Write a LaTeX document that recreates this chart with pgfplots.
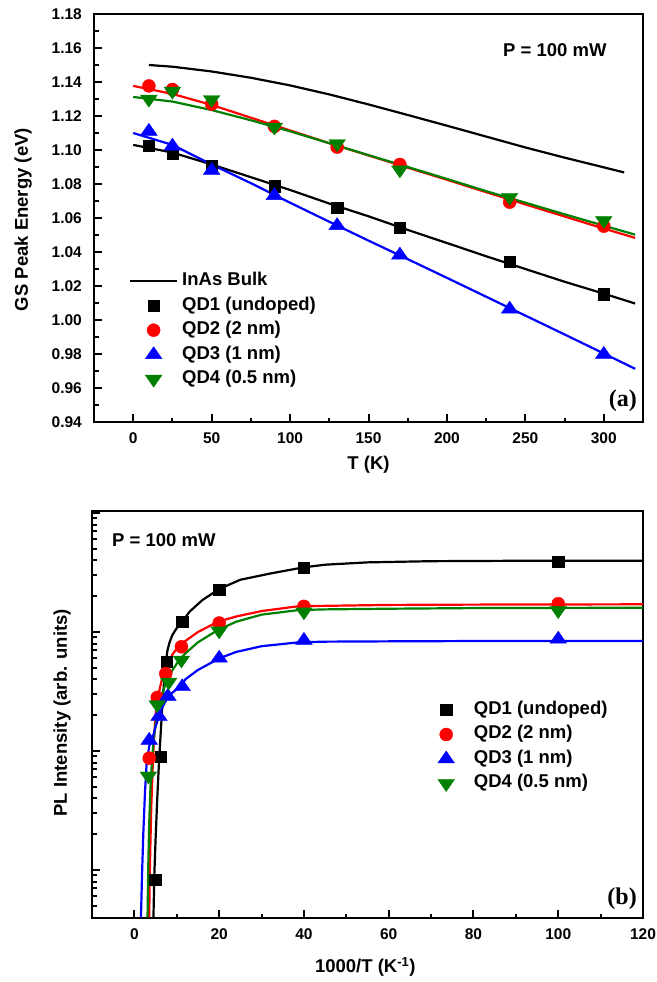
\documentclass[border=0pt]{standalone}
\usepackage{fontspec}
\setmainfont{Liberation Sans}
\newfontfamily\seriffont{Liberation Serif}
\usepackage{pgfplots}
\pgfplotsset{compat=1.18}
\definecolor{qdgreen}{RGB}{0,128,0}
\begin{document}
\begin{tikzpicture}
\useasboundingbox (0,0) rectangle (657bp,-982bp);
\pgfplotsset{
  myaxis/.style={
    scale only axis,
    axis line style={line width=2.5bp},
    every tick/.append style={line width=2bp, black},
    major tick length=8bp,
    minor tick length=4.5bp,
    tick pos=left,
    tick align=inside,
    /pgf/number format/assume math mode=true,
    tick label style={font=\fontsize{15.5bp}{17bp}\selectfont\bfseries},
    xticklabel style={inner sep=0pt, text height=11bp, text depth=0pt, yshift=-10.5bp},
    yticklabel style={inner sep=0pt, text height=11bp, text depth=0pt, xshift=-12bp},
    label style={font=\fontsize{18.5bp}{20bp}\selectfont\bfseries},
    legend style={draw=none, fill=none, inner sep=0pt, outer sep=0pt, column sep=4bp, row sep=7.5bp,
      font=\fontsize{18.5bp}{20bp}\selectfont\bfseries, nodes={inner sep=0pt, text height=13bp, text depth=4bp}},
    legend cell align=left,
    legend image code/.code={\path (0bp,0bp) (47bp,0bp);\draw[mark repeat=2,mark phase=2,#1] plot coordinates {(0bp,0bp) (23.5bp,0bp) (47bp,0bp)};},
  },
  qd1/.style={only marks, mark=square*, black, mark size=5.6bp},
  qd2/.style={only marks, mark=*, red, mark size=6.5bp},
  qd3/.style={only marks, mark=triangle*, blue, mark size=8bp, mark options={xscale=1.2}},
  qd4/.style={only marks, mark=triangle*, qdgreen, mark size=8bp, mark options={rotate=180, xscale=1.2}},
  fit/.style={no marks, line width=2.2bp, forget plot},
}
% ---------------- panel (a) ----------------
\begin{axis}[myaxis, at={(94bp,-422bp)}, anchor=south west, width=549bp, height=408bp,
  xmin=-25, xmax=325, ymin=0.94, ymax=1.18,
  xtick={0,50,100,150,200,250,300}, minor x tick num=1,
  ytick={0.94,0.96,0.98,1.00,1.02,1.04,1.06,1.08,1.10,1.12,1.14,1.16,1.18}, minor y tick num=1,
  y tick label style={/pgf/number format/fixed, /pgf/number format/fixed zerofill, /pgf/number format/precision=2},
  xlabel={T (K)}, ylabel={GS Peak Energy (eV)},
  xlabel style={at={(axis description cs:0.5,-0.105)}, anchor=center},
  ylabel style={at={(axis description cs:-0.129,0.496)}, anchor=center},
  legend style={at={(axis description cs:0.0638,0.366)}, anchor=north west},
]
% fit curves
\addplot[fit, black] coordinates {(0,1.1030) (25,1.0985) (50,1.0915) (75,1.0840) (100,1.0765) (125,1.0685) (150,1.0610) (175,1.0530) (200,1.0453) (225,1.0375) (250,1.0300) (275,1.0225) (300,1.0155) (320,1.0097)};
\addplot[fit, red] coordinates {(0,1.1377) (25,1.1330) (50,1.1265) (75,1.1190) (100,1.1115) (125,1.1040) (150,1.0968) (175,1.0896) (200,1.0825) (225,1.0752) (250,1.0680) (275,1.0609) (300,1.0538) (320,1.0483)};
\addplot[fit, blue] coordinates {(0,1.1100) (25,1.1030) (50,1.0915) (75,1.0805) (100,1.0690) (125,1.0578) (150,1.0467) (175,1.0358) (200,1.0248) (225,1.0137) (250,1.0026) (275,0.9915) (300,0.9803) (320,0.9713)};
\addplot[fit, qdgreen] coordinates {(0,1.1312) (25,1.1285) (50,1.1235) (75,1.1175) (100,1.1110) (125,1.1040) (150,1.0970) (175,1.0900) (200,1.0830) (225,1.0758) (250,1.0690) (275,1.0622) (300,1.0555) (320,1.0502)};
% InAs bulk
\addplot[no marks, black, line width=2.2bp] coordinates {(10,1.1500) (25,1.1490) (50,1.1462) (75,1.1425) (100,1.1380) (125,1.1327) (150,1.1268) (175,1.1206) (200,1.1143) (225,1.1079) (250,1.1015) (275,1.0955) (300,1.0898) (313,1.0868)};
\addlegendentry{InAs Bulk}
\addplot[qd1] coordinates {(10,1.1023) (25,1.0978) (50,1.0909) (90,1.0787) (130,1.0660) (170,1.0545) (240,1.0343) (300,1.0152)};
\addlegendentry{QD1 (undoped)}
\addplot[qd2] coordinates {(10,1.1377) (25,1.1356) (50,1.1270) (90,1.1139) (130,1.1017) (170,1.0915) (240,1.0693) (300,1.0552)};
\addlegendentry{QD2 (2 nm)}
\addplot[qd3] coordinates {(10,1.1110) (25,1.1023) (50,1.0880) (90,1.0732) (130,1.0555) (170,1.0382) (240,1.0064) (300,0.9798)};
\addlegendentry{QD3 (1 nm)}
\addplot[qd4] coordinates {(10,1.1299) (25,1.1346) (50,1.1297) (90,1.1135) (130,1.1037) (170,1.0883) (240,1.0722) (300,1.0585)};
\addlegendentry{QD4 (0.5 nm)}
\node[anchor=base west, font=\fontsize{18.5bp}{20bp}\selectfont\bfseries, inner sep=0pt] at (axis description cs:0.745,0.897) {P = 100 mW};
\node[anchor=base east, font=\fontsize{24bp}{26bp}\selectfont\seriffont\bfseries, inner sep=0pt] at (axis description cs:0.989,0.0392) {(a)};
\end{axis}
% ---------------- panel (b) ----------------
\begin{axis}[myaxis, at={(92bp,-918bp)}, anchor=south west, width=551bp, height=407bp,
  xmin=-10, xmax=120, ymode=log, ymin=0.395, ymax=1040,
  xtick={0,20,40,60,80,100,120}, minor x tick num=1,
  ytick={1,10,100,1000}, yticklabels={},
  minor ytick={0.5,0.6,0.7,0.8,0.9,2,3,4,5,6,7,8,9,20,30,40,50,60,70,80,90,200,300,400,500,600,700,800,900},
  xlabel={1000/T (K\textsuperscript{-1})}, ylabel={PL Intensity (arb. units)},
  xlabel style={at={(axis description cs:0.496,-0.12)}, anchor=center},
  ylabel style={at={(axis description cs:-0.0544,0.504)}, anchor=center},
  legend style={at={(axis description cs:0.5998,0.532)}, anchor=north west},
]
\addplot[fit, black] coordinates {(120,398) (90,397) (70,394) (55,385) (45,368) (40,350) (32,310) (25,275) (20,230) (16,185) (13,148) (11.3,122) (10,108) (9,95) (8.3,82) (7.8,70) (7.4,55) (7.0,38) (6.6,24) (6.2,14) (5.8,8) (5.4,4) (5.0,1.8) (4.7,0.9) (4.5,0.4)};
\addplot[fit, red] coordinates {(120,171) (80,170) (60,169) (45,166) (38.8,165) (30,150) (24,135) (19.7,122) (15,100) (12,84) (10.7,78) (9,65) (7.5,50) (6.5,40) (5.5,28) (5.0,20) (4.6,12) (4.3,7) (4.0,3.5) (3.8,1.8) (3.6,0.8) (3.5,0.4)};
\addplot[fit, qdgreen] coordinates {(120,160) (80,159) (60,157) (45,155) (38.8,153) (30,140) (24,122) (19.7,104) (15,82) (12,66) (10.7,59) (9,48) (7.5,38) (6.5,30) (5.5,22) (4.8,15) (4.2,9) (3.8,5) (3.5,2.5) (3.3,1.2) (3.1,0.4)};
\addplot[fit, blue] coordinates {(120,84) (80,84) (60,83.5) (45,83) (38.8,82) (30,76) (24,68) (20,60) (15,48) (12,40) (11.3,36) (9,31) (7.9,28.5) (6.5,23) (5.8,19.5) (5,16) (4.2,12.5) (3.5,11) (2.9,8) (2.5,4.5) (2.1,2) (1.8,0.9) (1.55,0.4)};
\addplot[qd1] coordinates {(100,392.6) (40,345) (20,228.6) (11.3,122.2) (7.6,56.2) (6.3,8.91) (4.9,0.832)};
\addlegendentry{QD1 (undoped)}
\addplot[qd2] coordinates {(100,173) (40,164.4) (20,119.1) (11.1,75.2) (7.4,44.7) (5.4,28.2) (3.5,8.71)};
\addlegendentry{QD2 (2 nm)}
\addplot[qd3] coordinates {(100,87.1) (40,85.1) (20,60.3) (11.3,34.7) (7.9,28.8) (5.8,19.5) (3.5,12.3)};
\addlegendentry{QD3 (1 nm)}
\addplot[qd4] coordinates {(100,151.4) (40,147.9) (20,102.3) (11.1,58.2) (8.1,38.0) (5.4,24.5) (3.3,6.17)};
\addlegendentry{QD4 (0.5 nm)}
\node[anchor=base west, font=\fontsize{18.5bp}{20bp}\selectfont\bfseries, inner sep=0pt] at (axis description cs:0.0363,0.9116) {P = 100 mW};
\node[anchor=base east, font=\fontsize{24bp}{26bp}\selectfont\seriffont\bfseries, inner sep=0pt] at (axis description cs:0.989,0.032) {(b)};
\end{axis}
\end{tikzpicture}
\end{document}
